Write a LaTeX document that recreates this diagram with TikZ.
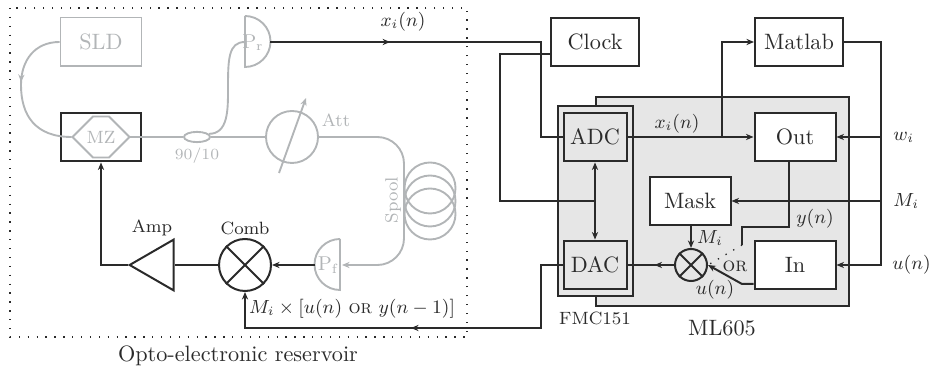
\documentclass[tikz,border=0pt]{standalone}
\usepackage{amsmath}
\usetikzlibrary{arrows.meta,shapes.geometric,shapes.misc,decorations.markings}
\definecolor{fiber}{HTML}{B2B5B7}
\definecolor{board}{HTML}{E6E6E6}
\definecolor{wire}{HTML}{2A2A2A}
\tikzset{
    >={Stealth[length=3.4pt,width=2.8pt]},
    blk/.style={draw=wire, line width=0.9pt, fill=white, minimum width=#1*0.45pt, minimum height=22pt, inner sep=0pt, text=wire},
    blk/.default=81,
    conv/.style={blk=63, fill=board},
    optic/.style={draw=fiber, line width=0.85pt, text=fiber},
    mult/.style={draw=wire, line width=0.9pt, circle, inner sep=0pt, minimum size=#1*0.45pt},
    lab/.style={text=wire, inner sep=0pt},
    sig/.style={lab, font=\small, scale=0.95},
    sparse/.style={line width=0.6pt, dash pattern=on 0.6pt off 3.4pt},
    midarrow/.style={postaction={decorate}, decoration={markings, mark=at position #1 with {\arrow{>}}}}
}

\begin{document}
\begin{tikzpicture}[x=0.45pt, y=-0.45pt]
    \useasboundingbox (0,0) rectangle (930,366);

    % boards
    \fill[board] (596,97) rectangle (849,306);
    \draw[wire, line width=0.9pt] (596,106) -- (596,97) -- (849,97) -- (849,306) -- (596,306) -- (596,296);
    \draw[wire, line width=0.9pt, fill=board] (558,106) rectangle (633,296);
    \draw[wire, sparse] (10,8) rectangle (467,337);

    % optical part
    \node (sld) at (101,42) [blk, optic, minimum height=22pt] {SLD};
    \node (mzbox) at (101,137) [blk, minimum width=36pt] {};
    \node (mz) at (101,137) [optic, chamfered rectangle, chamfered rectangle xsep=4.6pt, chamfered rectangle ysep=7pt, minimum width=25.6pt, minimum height=14pt, inner sep=0pt, fill=white, font=\footnotesize] {MZ};
    \node (coupler) at (197,137) [optic, ellipse, minimum width=11.7pt, minimum height=4.6pt, inner sep=0pt] {};
    \node at (197,156) [lab, text=fiber, font=\scriptsize] {90/10};
    \node (att) at (292,137) [optic, circle, minimum size=23.4pt, inner sep=0pt] {};
    \node at (336,120) [lab, text=fiber, font=\footnotesize] {Att};
    \draw[optic, ->] (279,173) -- (306,98);
    \foreach \y in {188,201,214}{
        \draw[optic] (430,\y) circle (25.5);
    }
    \node at (393,200) [lab, text=fiber, rotate=90, font=\footnotesize] {Spool};

    \coordinate (prin) at (245,42);
    \coordinate (prout) at (270,42);
    \coordinate (pfout) at (315,265);
    \coordinate (pfin) at (342,265);
    \draw[optic] (245,16) -- (245,67) arc (90:-90:25.5) -- cycle;
    \draw[optic] (340,239) -- (340,290) arc (90:270:25.5) -- cycle;
    \node (pr) at (253,43) [lab, text=fiber, font=\small] {P\textsubscript{r}};
    \node (pf) at (328,265) [lab, text=fiber, font=\small] {P\textsubscript{f}};

    \draw[optic, midarrow=0.42] (sld.west) .. controls (35,42) and (21,60) .. (21,85) .. controls (21,115) and (35,137) .. (mz.west);
    \draw[optic] (mz.east) -- (coupler.west);
    \draw[optic] (coupler.east) -- (att.west);
    \draw[optic] (coupler.15) .. controls (228,134) and (228,110) .. (228,90) .. controls (228,60) and (228,42) .. (prin);
    \draw[optic, rounded corners=12pt, ->] (att.east) -- (404,137) -- (404,265) -- (pfin);

    % electronic part of the loop
    \node (comb) at (245,265) [mult=52] {};
    \draw[wire, line width=0.9pt] (comb.45) -- (comb.225) (comb.135) -- (comb.315);
    \node at (245,228) [lab, font=\footnotesize] {Comb};
    \node (amp) at (159,265) [draw=wire, line width=0.9pt, isosceles triangle, shape border rotate=180, isosceles triangle apex angle=60, minimum height=19.8pt, inner sep=0pt] {};
    \node at (152,228) [lab, font=\footnotesize] {Amp};

    % FPGA blocks
    \node (clock) at (595,42) [blk=88] {Clock};
    \node (matlab) at (799,42) [blk=88] {Matlab};
    \node (adc) at (595,137) [conv] {ADC};
    \node (dac) at (595,265) [conv] {DAC};
    \node (out) at (795,137) [blk] {Out};
    \node (mask) at (690,201) [blk] {Mask};
    \node (in) at (795,265) [blk] {In};
    \node (mul) at (691,265) [mult=32] {};
    \draw[wire, line width=0.9pt] (mul.45) -- (mul.225) (mul.135) -- (mul.315);

    % connections
    \begin{scope}[wire, line width=0.9pt]
        \draw[midarrow=0.31] (prout) -- (541,42) -- (541,137) -- (adc.west);
        \draw (clock.west |- 0,54) -- (500,54) -- (500,201) -- (595,201);
        \draw[<->] (adc.south) -- (dac.north);
        \draw[->] (adc.east) -- (out.west);
        \draw[->] (722,137) -- (722,42) -- (matlab.west);
        \draw[->] (matlab.east) -- (881,42) -- (881,265) -- (in.east);
        \draw[->] (881,137) -- (out.east);
        \draw[->] (881,201) -- (mask.east);
        \draw[->] (mask.south -| mul.north) -- (mul.north);
        \draw[midarrow=0.42] (mul.west) -- (dac.east);
        \draw (789,162) -- (789,227) -- (742,227) -- (742,245);
        \draw[sparse] (742,245) -- (mul.east);
        \draw[->] (in.west |- 0,284) -- (742,284) -- (mul.east);
        \draw[midarrow=0.515, ->] (dac.west) -- (541,265) -- (541,328) -- (245,328) -- (comb.south);
        \draw[->] (pfout) -- (comb.east);
        \draw (comb.west) -- (amp.east);
        \draw[->] (amp.west) -| (mzbox.south);
    \end{scope}

    % signal labels
    \node at (403,22) [sig] {$x_i(n)$};
    \node at (677,124) [sig] {$x_i(n)$};
    \node at (893,137) [sig, anchor=west] {$w_i$};
    \node at (893,201) [sig, anchor=west] {$M_i$};
    \node at (892,265) [sig, anchor=west] {$u(n)$};
    \node at (710,238) [sig] {$M_i$};
    \node at (815,219) [sig] {$y(n)$};
    \node at (735,266) [lab, font=\small] {\textsc{or}};
    \node at (715,290) [sig] {$u(n)$};
    \node at (352,309) [sig] {$M_i\times[u(n)$ \textsc{or} $y(n-1)]$};
    \node at (595,318) [lab, font=\footnotesize] {FMC151};
    \node at (722,328) [lab] {ML605};
    \node at (238,356) [lab] {Opto-electronic reservoir};
\end{tikzpicture}
\end{document}
